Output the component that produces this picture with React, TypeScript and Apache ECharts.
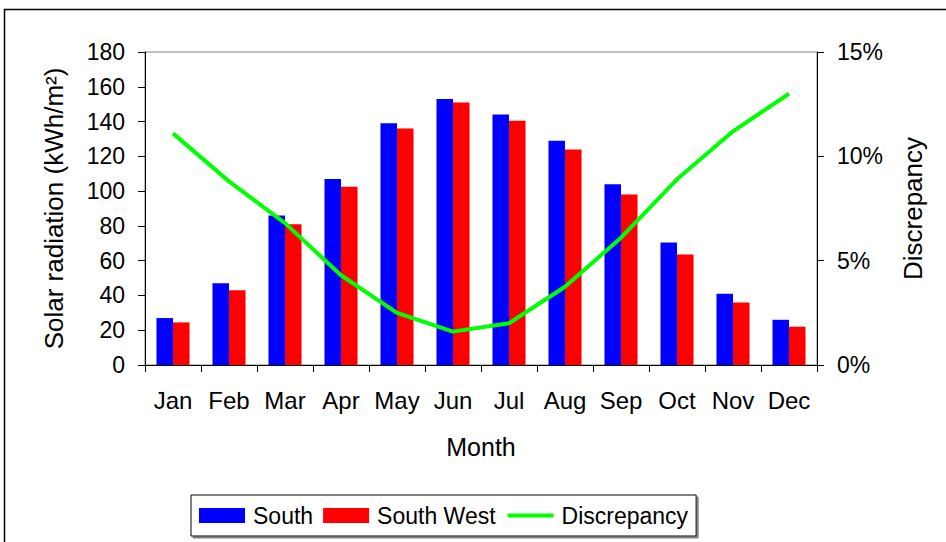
import React, { useEffect, useRef } from "react";
import * as echarts from "echarts";

const months = ["Jan", "Feb", "Mar", "Apr", "May", "Jun", "Jul", "Aug", "Sep", "Oct", "Nov", "Dec"];
const south = [27, 47, 86, 107, 139, 153, 144, 129, 104, 70.5, 41, 26];
const southWest = [24.5, 43, 81, 102.5, 136, 151, 140.5, 124, 98, 63.5, 36, 22];
const discrepancy = [11.1, 8.8, 6.8, 4.3, 2.5, 1.6, 2.0, 3.75, 6.1, 8.9, 11.2, 13.0];

const FONT = "'Liberation Sans', Arial, sans-serif";

export default function App() {
  const ref = useRef<HTMLDivElement>(null);
  useEffect(() => {
    if (!ref.current) return;
    const chart = echarts.init(ref.current, null, { renderer: "svg" });
    chart.setOption({
      animation: false,
      backgroundColor: "#ffffff",
      textStyle: { fontFamily: FONT, color: "#000" },
      graphic: [
        {
          type: "rect",
          shape: { x: 4.5, y: 9.5, width: 1000, height: 1000 },
          style: { fill: "none", stroke: "#000", lineWidth: 1.5 },
          silent: true,
        },
      ],
      grid: {
        left: 145,
        right: 129,
        top: 52,
        bottom: 177,
        show: true,
        borderColor: "#808080",
        borderWidth: 1,
        backgroundColor: "transparent",
      },
      legend: {
        left: 191,
        top: 495,
        padding: [9, 8],
        itemGap: 10,
        itemWidth: 46,
        itemHeight: 15,
        borderColor: "#000",
        borderWidth: 1,
        backgroundColor: "#fff",
        shadowColor: "#808080",
        shadowOffsetX: 2,
        shadowOffsetY: 2,
        shadowBlur: 0,
        lineStyle: { width: 4 },
        textStyle: { fontSize: 23, fontFamily: FONT, color: "#000", padding: [0, 0, 0, 3] },
        data: [
          { name: "South", icon: "rect" },
          { name: "South West", icon: "rect" },
          { name: "Discrepancy", itemStyle: { color: "rgba(0,0,0,0)", borderWidth: 0 } },
        ],
      },
      xAxis: {
        type: "category",
        data: months,
        name: "Month",
        nameLocation: "middle",
        nameGap: 69,
        nameTextStyle: { fontSize: 25, fontFamily: FONT, color: "#000" },
        axisLine: { lineStyle: { color: "#000", width: 1 } },
        axisTick: { show: true, length: 7, lineStyle: { color: "#000" } },
        axisLabel: { interval: 0, fontSize: 24, fontFamily: FONT, color: "#000", margin: 23 },
      },
      yAxis: [
        {
          type: "value",
          min: 0,
          max: 180,
          interval: 20,
          name: "Solar radiation (kWh/m²)",
          nameLocation: "middle",
          nameRotate: 90,
          nameGap: 78,
          nameTextStyle: { fontSize: 26, fontFamily: FONT, color: "#000" },
          axisLine: { show: true, lineStyle: { color: "#000", width: 1 } },
          axisTick: { show: true, length: 7, lineStyle: { color: "#000" } },
          axisLabel: { fontSize: 23, fontFamily: FONT, color: "#000", margin: 20 },
          splitLine: { show: false },
        },
        {
          type: "value",
          min: 0,
          max: 15,
          interval: 5,
          position: "right",
          name: "Discrepancy",
          nameLocation: "middle",
          nameRotate: 90,
          nameGap: 83,
          nameTextStyle: { fontSize: 26, fontFamily: FONT, color: "#000" },
          axisLine: { show: true, lineStyle: { color: "#000", width: 1 } },
          axisTick: { show: true, length: 7, lineStyle: { color: "#000" } },
          axisLabel: { fontSize: 23, fontFamily: FONT, color: "#000", margin: 20, formatter: "{value}%" },
          splitLine: { show: false },
        },
      ],
      series: [
        {
          name: "South",
          type: "bar",
          data: south,
          barGap: "0%",
          barCategoryGap: "41%",
          itemStyle: { color: "#0000ff" },
        },
        {
          name: "South West",
          type: "bar",
          data: southWest,
          barGap: "0%",
          barCategoryGap: "41%",
          itemStyle: { color: "#ff0000" },
        },
        {
          name: "Discrepancy",
          type: "line",
          yAxisIndex: 1,
          data: discrepancy,
          symbol: "none",
          lineStyle: { color: "#00ff00", width: 4 },
          itemStyle: { color: "#00ff00" },
        },
      ],
    });
    return () => chart.dispose();
  }, []);
  return (
    <div
      ref={ref}
      style={{ position: "fixed", left: 0, top: 0, width: 946, height: 542 }}
    />
  );
}
